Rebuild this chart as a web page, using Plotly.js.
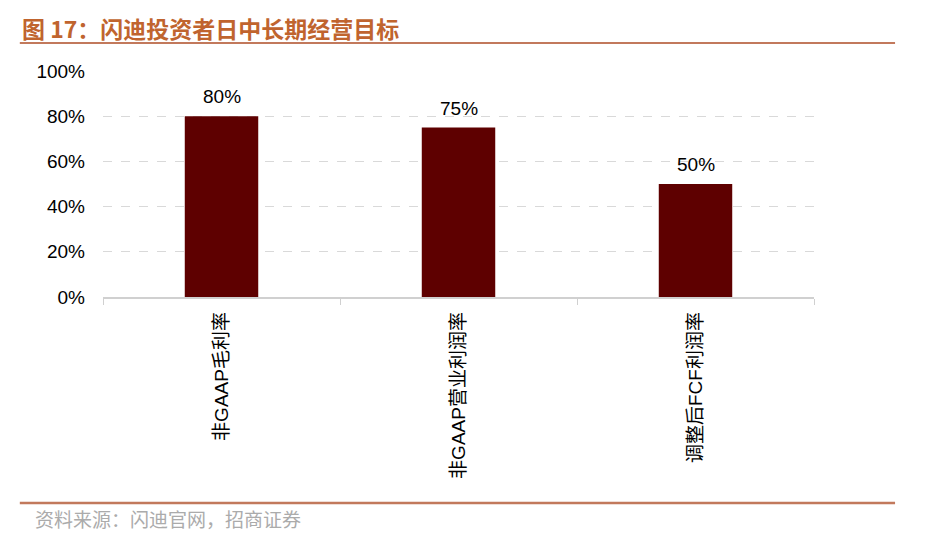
<!DOCTYPE html>
<html>
<head>
<meta charset="utf-8">
<script src="https://cdn.plot.ly/plotly-3.0.1.min.js"></script>
<style>
  body { margin: 0; background: #fff; }
  #chart { width: 948px; height: 538px; }
</style>
</head>
<body>
<div id="chart"></div>
<script>
// 闪迪投资者日 中长期经营目标
var categories = ["非GAAP毛利率", "非GAAP营业利润率", "调整后FCF利润率"];
var targets = [0.80, 0.75, 0.50];
var yTicks = [0, 0.2, 0.4, 0.6, 0.8, 1.0];

var titleText = "图 17：闪迪投资者日中长期经营目标";
var sourceText = "资料来源：闪迪官网，招商证券";

var fontBase = "Liberation Sans, Arial, Noto Sans CJK SC, sans-serif";
var fontCJK = "Noto Sans CJK SC, sans-serif";

var trace = {
  type: "bar",
  x: categories,
  y: targets,
  width: 0.31,
  marker: { color: "#5E0000" },
  hoverinfo: "x+y"
};

// value labels above the bars
var labels = [];
for (var i = 0; i < categories.length; i++) {
  labels.push({
    x: categories[i],
    y: targets[i],
    xref: "x",
    yref: "y",
    text: Math.round(targets[i] * 100) + "%",
    showarrow: false,
    yanchor: "bottom",
    yshift: 7,
    font: { family: fontBase, size: 19, color: "#000" }
  });
}

// page decorations: title, rules, source
labels.push({
  xref: "paper", yref: "paper",
  x: -0.117, y: 1.19,
  xanchor: "left", yanchor: "middle",
  text: "<b>" + titleText + "</b>",
  showarrow: false,
  font: { family: fontCJK, size: 23, color: "#C0642E" }
});
labels.push({
  xref: "paper", yref: "paper",
  x: -0.099, y: -0.978,
  xanchor: "left", yanchor: "middle",
  text: sourceText,
  showarrow: false,
  font: { family: fontCJK, size: 19, color: "#ABABAB" }
});

var shapes = [
  { type: "line", xref: "paper", yref: "paper", x0: -0.117, x1: 1.114, y0: 1.124, y1: 1.124,
    line: { color: "#C2795C", width: 2 } },
  { type: "line", xref: "paper", yref: "paper", x0: -0.117, x1: 1.114, y0: -0.912, y1: -0.912,
    line: { color: "#C2795C", width: 2.5 } }
];

var layout = {
  width: 948,
  height: 538,
  margin: { l: 103, r: 134, t: 71, b: 241 },
  paper_bgcolor: "#fff",
  plot_bgcolor: "#fff",
  showlegend: false,
  font: { family: fontBase, color: "#000" },
  xaxis: {
    type: "category",
    tickangle: -90,
    tickfont: { family: fontBase + ", " + fontCJK, size: 19, color: "#000" },
    showline: true,
    linecolor: "#D0D0D0",
    linewidth: 1.5,
    ticks: "outside",
    tickson: "boundaries",
    ticklen: 6,
    tickcolor: "#D0D0D0",
    showgrid: false,
    zeroline: false,
    ticklabelstandoff: 6
  },
  yaxis: {
    range: [0, 1.0],
    tickvals: yTicks,
    tickformat: ".0%",
    tickfont: { family: fontBase, size: 19, color: "#000" },
    showline: false,
    ticks: "",
    showgrid: true,
    gridcolor: "#D9D9D9",
    griddash: "dash",
    gridwidth: 1,
    zeroline: false,
    ticklabelstandoff: 17
  },
  annotations: labels,
  shapes: shapes
};

Plotly.newPlot("chart", [trace], layout, { displayModeBar: false, staticPlot: true });
</script>
</body>
</html>
